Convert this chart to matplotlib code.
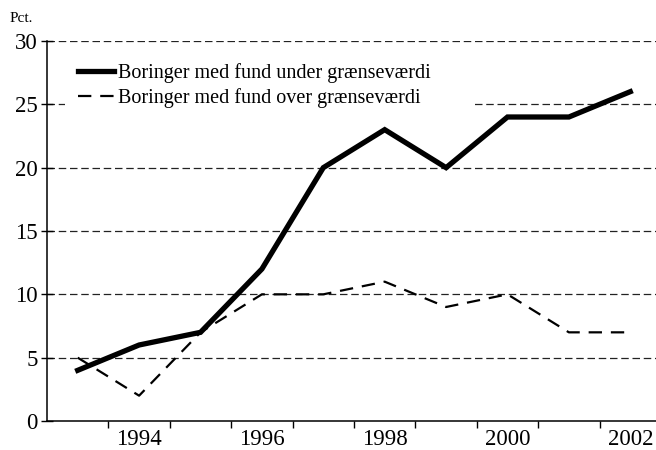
import matplotlib
matplotlib.use("Agg")
import matplotlib.pyplot as plt
from matplotlib.patches import Rectangle

years = [1993, 1994, 1995, 1996, 1997, 1998, 1999, 2000, 2001, 2002]
under = [4, 6, 7, 12, 20, 23, 20, 24, 24, 26]
over = [5, 2, 7, 10, 10, 11, 9, 10, 7, 7]
labels = ["Boringer med fund under grænseværdi", "Boringer med fund over grænseværdi"]
tick_years = [1994, 1996, 1998, 2000, 2002]

plt.rcParams["font.family"] = ["Liberation Serif", "DejaVu Serif"]

fig = plt.figure(figsize=(6.56, 4.5), dpi=100)
# axes spans a little past the right edge, like the cropped original
ax = fig.add_axes([47 / 656, 1 - 421 / 450, 614 / 656, 380 / 450])

ax.set_ylim(0, 30)
ax.set_xlim(1992.5, 2002.5)
ax.set_yticks(range(0, 31, 5))
for y in range(5, 31, 5):
    ax.axhline(y, color="#222222", lw=0.9, ls=(0, (6, 3)), zorder=1)

ax.plot(years, under, color="black", lw=3.8, solid_joinstyle="miter", zorder=3, label=labels[0])
ax.plot(years, over, color="black", lw=1.6, ls=(0, (6, 4)), zorder=3, label=labels[1])

# category boundaries as major ticks, year labels on minor ticks
ax.set_xticks([y + 0.5 for y in years[:-1]] + [2002.5])
ax.set_xticklabels([])
ax.set_xticks(tick_years, minor=True)
ax.set_xticklabels([str(y) for y in tick_years], minor=True)
ax.tick_params(axis="x", which="major", direction="out", length=5, width=1)
ax.tick_params(axis="x", which="minor", length=0, labelsize=16.5, pad=6)
ax.tick_params(axis="y", direction="inout", length=9, width=1, labelsize=16.5, pad=2)

for s in ["top", "right"]:
    ax.spines[s].set_visible(False)
for s in ["left", "bottom"]:
    ax.spines[s].set_linewidth(1.1)
    ax.spines[s].set_zorder(4)

# white legend area that cuts the 25 gridline
ax.add_patch(Rectangle((65 / 656, 1 - 112 / 450), 409 / 656, 55 / 450,
                       transform=fig.transFigure, facecolor="white",
                       edgecolor="none", zorder=2, clip_on=False))

leg = ax.legend(loc="upper left", bbox_to_anchor=(78 / 656, 1 - 63 / 450),
                bbox_transform=fig.transFigure, fontsize=14.5, frameon=False,
                handlelength=1.8, handletextpad=0.2, labelspacing=0.28, borderpad=0,
                borderaxespad=0)
leg.set_zorder(5)

fig.text(10 / 656, 1 - 18 / 450, "Pct.", fontsize=11, va="center", ha="left")

fig.savefig("out.png", dpi=100)
